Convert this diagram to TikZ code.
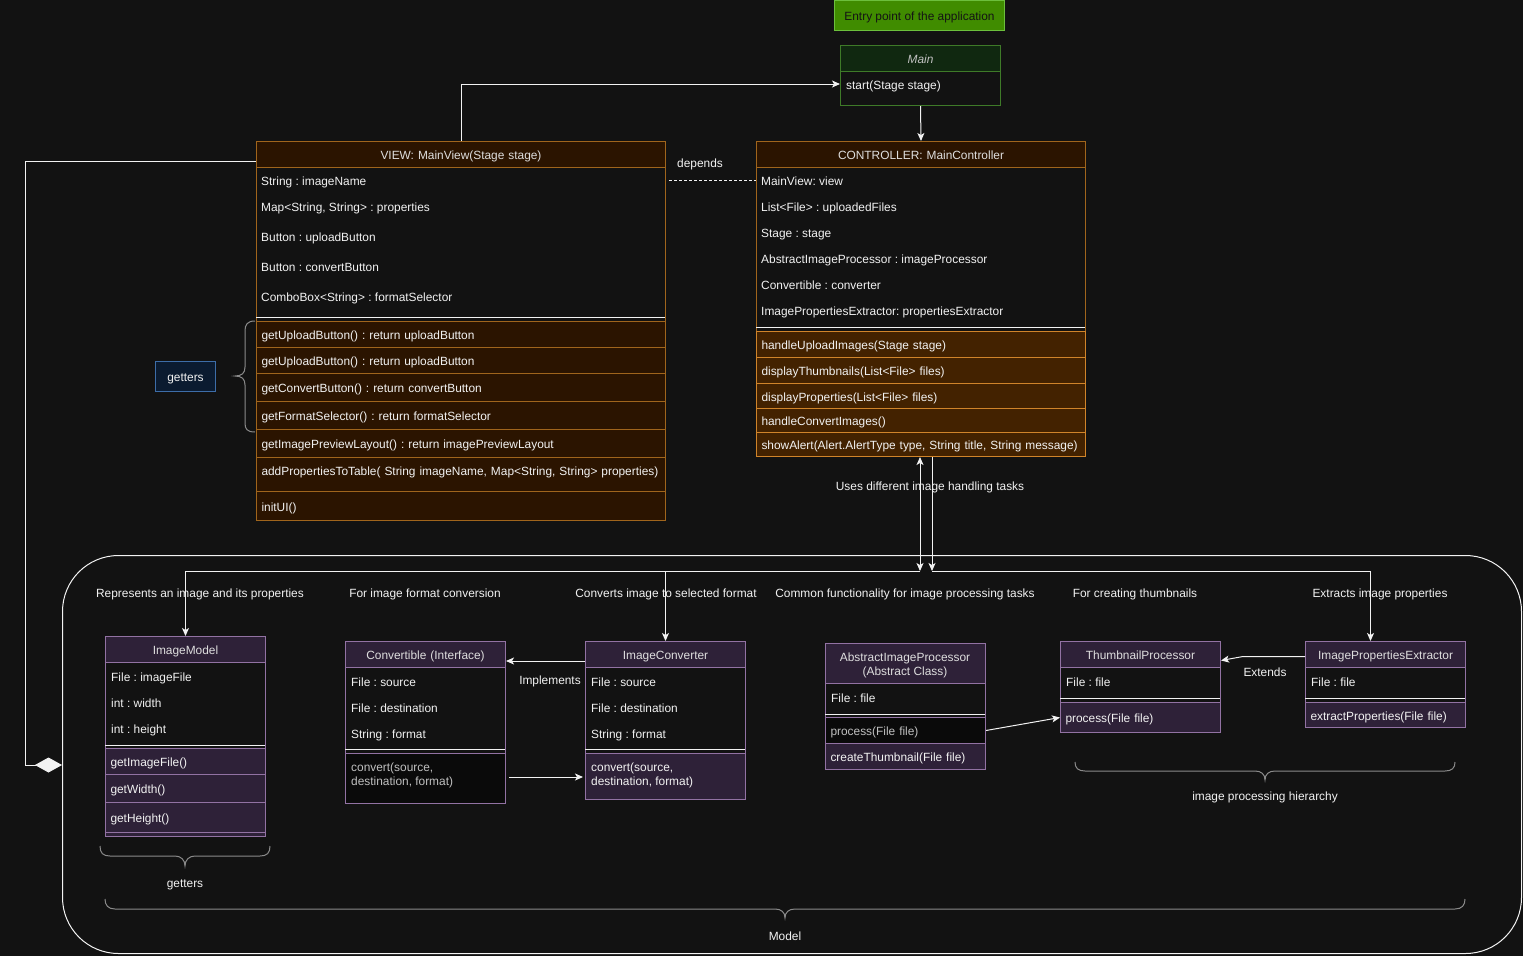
\documentclass[tikz,border=0pt]{standalone}
\usepackage{fontspec}
\setmainfont{Liberation Sans}
\usetikzlibrary{arrows.meta}
\definecolor{bg}{HTML}{121212}
\definecolor{fg}{HTML}{F2F2F2}
\definecolor{htext}{HTML}{DEDEDE}
\definecolor{vborder}{HTML}{A0651C}
\definecolor{vfill}{HTML}{2B1400}
\definecolor{cborder}{HTML}{D0842A}
\definecolor{cmfill}{HTML}{432200}
\definecolor{pfill}{HTML}{2E2138}
\definecolor{pborder}{HTML}{9272A3}
\definecolor{gfill}{HTML}{102810}
\definecolor{gborder}{HTML}{3E7A28}
\definecolor{entryfill}{HTML}{408C00}
\definecolor{entryborder}{HTML}{6CBF3C}
\definecolor{bfill}{HTML}{0B1B30}
\definecolor{bborder}{HTML}{3D6DA8}
\definecolor{bracec}{HTML}{8A8A8A}
\definecolor{blk}{HTML}{0A0A0A}
\definecolor{gtext}{HTML}{C0C0C0}
\begin{document}
\frenchspacing
\begin{tikzpicture}[x=1pt,y=-1pt,
  base/.style={font=\fontsize{11.9}{14}\selectfont, text=fg},
  frame/.style={draw, fill=bg, anchor=north west, inner sep=0pt, line width=1pt},
  hdr/.style={base, draw, anchor=north west, inner xsep=5pt, inner ysep=0pt, align=center, text height=11pt, text depth=1pt, line width=1pt, text=htext},
  row/.style={base, draw, anchor=north west, inner xsep=5pt, inner ysep=0pt, align=left, text height=11pt, text depth=1pt, line width=1pt},
  attr/.style={base, anchor=west, inner sep=0pt, text height=11pt, text depth=1pt},
  lbl/.style={base, inner sep=1pt, yshift=-1pt},
  sep/.style={draw=fg, line width=1pt},
  bracestyle/.style={draw=bracec, line width=1pt},
  arr/.style={draw=fg, line width=1pt, -{Stealth[length=8pt,width=7pt,inset=2pt]}},
  arrboth/.style={draw=fg, line width=1pt, {Stealth[length=8pt,width=7pt,inset=2pt]}-{Stealth[length=8pt,width=7pt,inset=2pt]}},
  diam/.style={draw=fg, line width=1pt, -{Diamond[length=27pt,width=15pt,fill=fg]}},
  dashline/.style={draw=fg, line width=1pt, dash pattern=on 3pt off 2pt}
]
\fill[bg] (0,0) rectangle (1523,956);
\useasboundingbox (0,0) rectangle (1523,956);

% ---------- Entry / Main ----------
\node[base, text=black!92, fill=entryfill, draw=entryborder, line width=1pt, minimum width=170pt, minimum height=30pt, anchor=north west, inner sep=0pt, text height=11pt, text depth=1pt] (entry) at (834,0) {Entry point of the application};

\node[frame, draw=gborder, minimum width=160pt, minimum height=60pt] (main) at (840,45) {};
\node[hdr, fill=gfill, draw=gborder, text width=150pt, minimum height=26pt, text=gtext, font=\fontsize{11.9}{14}\selectfont\itshape] (mainh) at (840,45) {Main};
\node[attr] (mstart) at (846,84) {start(Stage stage)};

% ---------- VIEW ----------
\node[frame, draw=vborder, minimum width=409pt, minimum height=379pt] (view) at (256,141) {};
\node[hdr, fill=vfill, draw=vborder, text width=399pt, minimum height=26pt] (viewh) at (256,141) {VIEW: MainView(Stage stage)};
\node[attr] (va1) at (261,180) {String : imageName};
\node[attr] (va2) at (261,206) {Map<String, String> : properties};
\node[attr] (va3) at (261,236) {Button : uploadButton};
\node[attr] (va4) at (261,266) {Button : convertButton};
\node[attr] (va5) at (261,296) {ComboBox<String> : formatSelector};
\draw[sep] (256,317) -- (665,317);
\node[row, fill=vfill, draw=vborder, text width=399pt, minimum height=26pt] (vm1) at (256,321) {getUploadButton() : return uploadButton};
\node[row, fill=vfill, draw=vborder, text width=399pt, minimum height=26pt] (vm2) at (256,347) {getUploadButton() : return uploadButton};
\node[row, fill=vfill, draw=vborder, text width=399pt, minimum height=28pt] (vm3) at (256,373) {getConvertButton() : return convertButton};
\node[row, fill=vfill, draw=vborder, text width=399pt, minimum height=28pt] (vm4) at (256,401) {getFormatSelector() : return formatSelector};
\node[row, fill=vfill, draw=vborder, text width=399pt, minimum height=28pt] (vm5) at (256,429) {getImagePreviewLayout() : return imagePreviewLayout};
\node[row, fill=vfill, draw=vborder, text width=399pt, minimum height=34pt, text depth=9pt] (vm6) at (256,457) {\mbox{addPropertiesToTable( String imageName, Map<String, String> properties)}};
\node[row, fill=vfill, draw=vborder, text width=399pt, minimum height=29pt] (vm7) at (256,491) {initUI()};

% getters box + brace
\node[base, draw=bborder, fill=bfill, line width=1pt, minimum width=60pt, minimum height=30pt, anchor=north west, inner sep=0pt, text height=11pt, text depth=1pt] (gbox) at (155,361) {getters};
\draw[bracestyle] (255,321) .. controls (247,321) and (245,325) .. (245,331) -- (245,367) .. controls (245,373) and (242,376) .. (235,376) .. controls (242,376) and (245,379) .. (245,385) -- (245,423) .. controls (245,429) and (247,432) .. (255,432);

% ---------- CONTROLLER ----------
\node[frame, draw=vborder, minimum width=329pt, minimum height=315pt] (ctrl) at (756,141) {};
\node[hdr, fill=vfill, draw=vborder, text width=319pt, minimum height=26pt] (ctrlh) at (756,141) {CONTROLLER: MainController};
\node[attr] (ca1) at (761,180) {MainView: view};
\node[attr] (ca2) at (761,206) {List<File> : uploadedFiles};
\node[attr] (ca3) at (761,232) {Stage : stage};
\node[attr] (ca4) at (761,258) {AbstractImageProcessor : imageProcessor};
\node[attr] (ca5) at (761,284) {Convertible : converter};
\node[attr] (ca6) at (761,310) {ImagePropertiesExtractor: propertiesExtractor};
\draw[sep] (756,327) -- (1085,327);
\node[row, fill=cmfill, draw=cborder, text width=319pt, minimum height=26pt] (cm1) at (756,331) {handleUploadImages(Stage stage)};
\node[row, fill=cmfill, draw=cborder, text width=319pt, minimum height=26pt] (cm2) at (756,357) {displayThumbnails(List<File> files)};
\node[row, fill=cmfill, draw=cborder, text width=319pt, minimum height=25pt] (cm3) at (756,383) {displayProperties(List<File> files)};
\node[row, fill=cmfill, draw=cborder, text width=319pt, minimum height=24pt] (cm4) at (756,408) {handleConvertImages()};
\node[row, fill=cmfill, draw=cborder, text width=319pt, minimum height=24pt] (cm5) at (756,432) {\mbox{showAlert(Alert.AlertType type, String title, String message)}};

% ---------- Model container ----------
\node[draw=fg!92, line width=1pt, rounded corners=56pt, minimum width=1459pt, minimum height=398pt, anchor=north west, inner sep=0pt] (model) at (62,555) {};

\node[lbl] (lm1) at (200,593) {Represents an image and its properties};
\node[lbl] (lm2) at (425,593) {For image format conversion};
\node[lbl] (lm3) at (666,593) {Converts image to selected format};
\node[lbl] (lm4) at (905,593) {Common functionality for image processing tasks};
\node[lbl] (lm5) at (1135,593) {For creating thumbnails};
\node[lbl] (lm6) at (1380,593) {Extracts image properties};

% ImageModel
\node[frame, draw=pborder, minimum width=160pt, minimum height=200pt] (imodel) at (105,636) {};
\node[hdr, fill=pfill, draw=pborder, text width=150pt, minimum height=26pt] (imodelh) at (105,636) {ImageModel};
\node[attr] (ia1) at (111,676) {File : imageFile};
\node[attr] (ia2) at (111,702) {int : width};
\node[attr] (ia3) at (111,728) {int : height};
\draw[sep] (105,745) -- (265,745);
\node[row, fill=pfill, draw=pborder, text width=150pt, minimum height=26pt] (im1) at (105,748) {getImageFile()};
\node[row, fill=pfill, draw=pborder, text width=150pt, minimum height=28pt] (im2) at (105,774) {getWidth()};
\node[row, fill=pfill, draw=pborder, text width=150pt, minimum height=30pt] (im3) at (105,802) {getHeight()};
\draw[draw=pborder, fill=pfill, line width=1pt] (105,832) rectangle (265,836);

% getters brace under ImageModel
\draw[bracestyle] (100,846) .. controls (100,853) and (103,856) .. (110,856) -- (175,856) .. controls (181,856) and (185,860) .. (185,866) .. controls (185,860) and (189,856) .. (195,856) -- (260,856) .. controls (267,856) and (270,853) .. (270,846);
\node[lbl] (gl2) at (185,884) {getters};

% Convertible
\node[frame, draw=pborder, minimum width=160pt, minimum height=162pt] (conv) at (345,641) {};
\node[hdr, fill=pfill, draw=pborder, text width=150pt, minimum height=26pt] (convh) at (345,641) {Convertible (Interface)};
\node[attr] (cva1) at (351,681) {File : source};
\node[attr] (cva2) at (351,707) {File : destination};
\node[attr] (cva3) at (351,733) {String : format};
\draw[sep] (345,749) -- (505,749);
\node[row, fill=blk, draw=pborder, text width=150pt, minimum height=50pt] (convm) at (345,753) {};
\node[base, text=gtext, anchor=north west, align=left, inner sep=0pt] (convmt) at (351,763) {convert(source,\\destination, format)};

% ImageConverter
\node[frame, draw=pborder, minimum width=160pt, minimum height=158pt] (iconv) at (585,641) {};
\node[hdr, fill=pfill, draw=pborder, text width=150pt, minimum height=26pt] (iconvh) at (585,641) {ImageConverter};
\node[attr] (ica1) at (591,681) {File : source};
\node[attr] (ica2) at (591,707) {File : destination};
\node[attr] (ica3) at (591,733) {String : format};
\draw[sep] (585,749) -- (745,749);
\node[row, fill=pfill, draw=pborder, text width=150pt, minimum height=46pt] (iconvm) at (585,753) {};
\node[base, anchor=north west, align=left, inner sep=0pt] (iconvmt) at (591,763) {convert(source,\\destination, format)};

% AbstractImageProcessor
\node[frame, draw=pborder, minimum width=160pt, minimum height=126pt] (aip) at (825,643) {};
\node[hdr, fill=pfill, draw=pborder, text width=150pt, minimum height=40pt] (aiph) at (825,643) {};
\node[base, text=htext, align=center, inner sep=0pt] (aipht) at (905,665) {AbstractImageProcessor\\(Abstract Class)};
\node[attr] (aa1) at (831,697) {File : file};
\draw[sep] (825,714) -- (985,714);
\node[row, fill=blk, draw=pborder, text width=150pt, minimum height=26pt, text=gtext] (aipp) at (825,717) {process(File file)};
\node[row, fill=pfill, draw=pborder, text width=150pt, minimum height=26pt] (aipc) at (825,743) {createThumbnail(File file)};

% ThumbnailProcessor
\node[frame, draw=pborder, minimum width=160pt, minimum height=91pt] (tp) at (1060,641) {};
\node[hdr, fill=pfill, draw=pborder, text width=150pt, minimum height=26pt] (tph) at (1060,641) {ThumbnailProcessor};
\node[attr] (ta1) at (1066,681) {File : file};
\draw[sep] (1060,698) -- (1220,698);
\node[row, fill=pfill, draw=pborder, text width=150pt, minimum height=30pt] (tpm) at (1060,702) {process(File file)};

% ImagePropertiesExtractor
\node[frame, draw=pborder, minimum width=160pt, minimum height=86pt] (ipe) at (1305,641) {};
\node[hdr, fill=pfill, draw=pborder, text width=150pt, minimum height=26pt] (ipeh) at (1305,641) {ImagePropertiesExtractor};
\node[attr] (pa1) at (1311,681) {File : file};
\draw[sep] (1305,698) -- (1465,698);
\node[row, fill=pfill, draw=pborder, text width=150pt, minimum height=25pt] (ipem) at (1305,702) {extractProperties(File file)};

% hierarchy brace
\draw[bracestyle] (1075,762) .. controls (1075,768) and (1078,771) .. (1085,771) -- (1255,771) .. controls (1261,771) and (1265,774) .. (1265,780) .. controls (1265,774) and (1269,771) .. (1275,771) -- (1445,771) .. controls (1452,771) and (1455,768) .. (1455,762);
\node[lbl] (hl) at (1265,796) {image processing hierarchy};

% Model brace
\draw[bracestyle] (105,899) .. controls (105,905) and (108,909) .. (115,909) -- (775,909) .. controls (781,909) and (785,912) .. (785,918) .. controls (785,912) and (789,909) .. (795,909) -- (1455,909) .. controls (1462,909) and (1465,905) .. (1465,899);
\node[lbl] (ml) at (785,935) {Model};

% ---------- Connectors ----------
\draw[arr] (main.south) -- (ctrl.north);
\draw[arr] (view.north) |- (mstart.west -| main.west);
\draw[dashline] ([xshift=3pt]view.east |- ca1) -- (ctrl.west |- ca1);
\node[lbl] (dep) at (700,163) {depends};

\coordinate (lc1) at (25,161);
\coordinate (lc2) at (25,765);
\draw[diam] (view.west |- lc1) -- (lc1) -- (lc2) -- (model.west |- lc2);

\coordinate (j1) at (920,571);
\coordinate (j2) at (932,571);
\draw[arrboth] (ctrl.south -| j1) -- (j1);
\draw[arr] (j1) -| (imodel.north);
\draw[arr] (j1) -| (iconv.north);
\draw[arr] (ctrl.south -| j2) -- (j2);
\draw[arr] (j2) -| ([xshift=-15pt]ipe.north);
\node[lbl] (uses) at (930,486) {Uses different image handling tasks};

\coordinate (ic) at (0,661);
\draw[arr] (iconvh.west |- ic) -- (convh.east |- ic);
\node[lbl] (impl) at (550,680) {Implements};
\coordinate (cy) at (0,777);
\draw[arr] ([xshift=3pt]convm.east |- cy) -- ([xshift=-2pt]iconvm.west |- cy);
\draw[arr] (aipp.east) -- (tpm.west);
\draw[arr] ([yshift=-2pt]ipeh.west) -- ++(-62,0) -- ([yshift=-6pt]tph.east);
\node[lbl] (ext) at (1265,671) {Extends};
\end{tikzpicture}
\end{document}
